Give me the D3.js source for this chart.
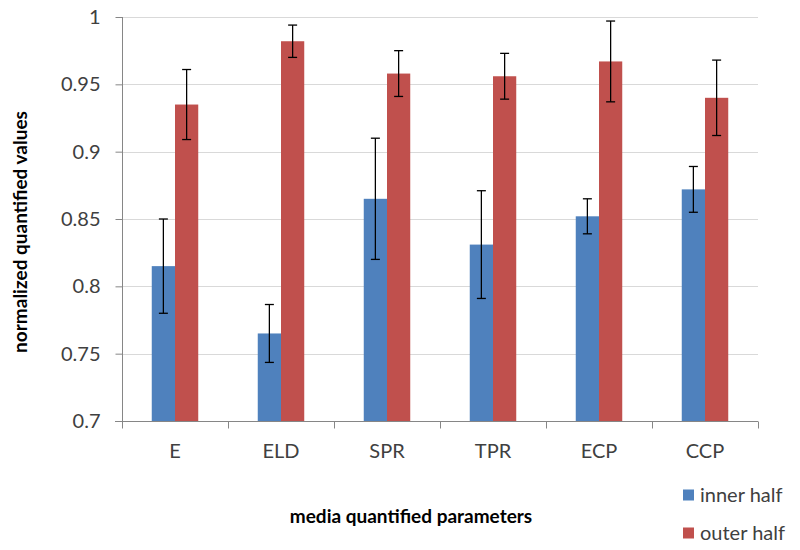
<!DOCTYPE html>
<html>
<head>
<meta charset="utf-8">
<script src="https://cdn.jsdelivr.net/npm/d3@7"></script>
<style>
  body { margin: 0; background: #fff; }
  text { font-family: Lato, "Open Sans", sans-serif; }
</style>
</head>
<body>
<div id="chart"></div>
<script>
var categories = ["E", "ELD", "SPR", "TPR", "ECP", "CCP"];
var seriesNames = ["inner half", "outer half"];
var innerValues = [0.815, 0.765, 0.865, 0.831, 0.852, 0.872];
var innerErrors = [0.035, 0.0215, 0.045, 0.040, 0.013, 0.017];
var outerValues = [0.935, 0.982, 0.958, 0.956, 0.967, 0.940];
var outerErrors = [0.026, 0.012, 0.017, 0.017, 0.030, 0.028];
var yTicks = [0.7, 0.75, 0.8, 0.85, 0.9, 0.95, 1];
var colors = ["#4f81bd", "#c0504d"];

var width = 800, height = 550;
var margin = {top: 17, right: 42, bottom: 129, left: 122};

var svg = d3.select("#chart").append("svg")
    .attr("width", width)
    .attr("height", height);

var x = d3.scaleBand()
    .domain(categories)
    .range([margin.left, width - margin.right]);

var x1 = d3.scaleBand()
    .domain(seriesNames)
    .range([0, x.bandwidth()])
    .paddingOuter(1.28);

var y = d3.scaleLinear()
    .domain([0.7, 1])
    .range([height - margin.bottom, margin.top]);

// gridlines
svg.append("g")
  .selectAll("line")
  .data(yTicks.slice(1))
  .enter().append("line")
    .attr("x1", margin.left)
    .attr("x2", width - margin.right)
    .attr("y1", function(d) { return Math.round(y(d)) + 0.5; })
    .attr("y2", function(d) { return Math.round(y(d)) + 0.5; })
    .attr("stroke", "#d9d9d9")
    .attr("stroke-width", 1);

var data = categories.map(function(c, i) {
  return {cat: c, vals: [
    {name: seriesNames[0], v: innerValues[i], e: innerErrors[i], c: colors[0]},
    {name: seriesNames[1], v: outerValues[i], e: outerErrors[i], c: colors[1]}
  ]};
});

var groups = svg.selectAll(".group")
    .data(data)
    .enter().append("g")
    .attr("class", "group")
    .attr("transform", function(d) { return "translate(" + x(d.cat) + ",0)"; });

groups.selectAll("rect")
    .data(function(d) { return d.vals; })
    .enter().append("rect")
    .attr("x", function(d) { return x1(d.name); })
    .attr("width", x1.bandwidth())
    .attr("y", function(d) { return y(d.v); })
    .attr("height", function(d) { return y(0.7) - y(d.v); })
    .attr("fill", function(d) { return d.c; });

// error bars
var err = groups.selectAll(".err")
    .data(function(d) { return d.vals; })
    .enter().append("g")
    .attr("class", "err")
    .attr("stroke", "#000")
    .attr("stroke-width", 1.3);

var cap = 4.5;
err.append("line")
    .attr("x1", function(d) { return x1(d.name) + x1.bandwidth() / 2; })
    .attr("x2", function(d) { return x1(d.name) + x1.bandwidth() / 2; })
    .attr("y1", function(d) { return y(d.v + d.e); })
    .attr("y2", function(d) { return y(d.v - d.e); });
err.append("line")
    .attr("x1", function(d) { return x1(d.name) + x1.bandwidth() / 2 - cap; })
    .attr("x2", function(d) { return x1(d.name) + x1.bandwidth() / 2 + cap; })
    .attr("y1", function(d) { return y(d.v + d.e); })
    .attr("y2", function(d) { return y(d.v + d.e); });
err.append("line")
    .attr("x1", function(d) { return x1(d.name) + x1.bandwidth() / 2 - cap; })
    .attr("x2", function(d) { return x1(d.name) + x1.bandwidth() / 2 + cap; })
    .attr("y1", function(d) { return y(d.v - d.e); })
    .attr("y2", function(d) { return y(d.v - d.e); });

// y axis
var yAxis = svg.append("g")
    .attr("transform", "translate(" + (margin.left + 0.5) + ",0)")
    .call(d3.axisLeft(y).tickValues(yTicks).tickSize(7).tickPadding(15)
      .tickFormat(function(d) { return String(+d.toFixed(2)); }));
yAxis.select(".domain").attr("stroke", "#868686").attr("d", "M0," + y(1) + "V" + y(0.7));
yAxis.selectAll(".tick line").attr("stroke", "#868686");
yAxis.selectAll(".tick text")
    .attr("fill", "#404040")
    .style("font-size", "20px");

// x axis
var xAxis = svg.append("g")
    .attr("transform", "translate(0," + (Math.round(y(0.7)) + 0.5) + ")")
    .call(d3.axisBottom(x).tickSize(0).tickPadding(22));
xAxis.select(".domain").attr("stroke", "#868686")
    .attr("d", "M" + (margin.left - 7) + ",0H" + (width - margin.right));
xAxis.selectAll(".tick text")
    .attr("fill", "#404040")
    .style("font-size", "20px");
xAxis.selectAll(".sep")
    .data(d3.range(categories.length + 1))
    .enter().append("line")
    .attr("class", "sep")
    .attr("x1", function(i) { return Math.round(margin.left + i * x.step()) + 0.5; })
    .attr("x2", function(i) { return Math.round(margin.left + i * x.step()) + 0.5; })
    .attr("y1", 0)
    .attr("y2", 7)
    .attr("stroke", "#868686");

// axis titles
svg.append("text")
    .attr("x", 411)
    .attr("y", 523)
    .attr("text-anchor", "middle")
    .style("font-size", "19px")
    .style("font-weight", "bold")
    .attr("fill", "#000")
    .text("media quantified parameters");

svg.append("text")
    .attr("transform", "translate(27,232) rotate(-90)")
    .attr("text-anchor", "middle")
    .style("font-size", "19px")
    .style("font-weight", "bold")
    .attr("fill", "#000")
    .text("normalized quantified values");

// legend
var legend = svg.selectAll(".legend")
    .data(seriesNames)
    .enter().append("g")
    .attr("class", "legend")
    .attr("transform", function(d, i) { return "translate(683," + (495 + i * 38) + ")"; });

legend.append("rect")
    .attr("x", 0)
    .attr("y", -5.5)
    .attr("width", 11)
    .attr("height", 11)
    .attr("fill", function(d, i) { return colors[i]; });

legend.append("text")
    .attr("x", 17)
    .attr("y", 0)
    .attr("dy", "0.35em")
    .style("font-size", "20px")
    .attr("fill", "#404040")
    .text(function(d) { return d; });
</script>
</body>
</html>
